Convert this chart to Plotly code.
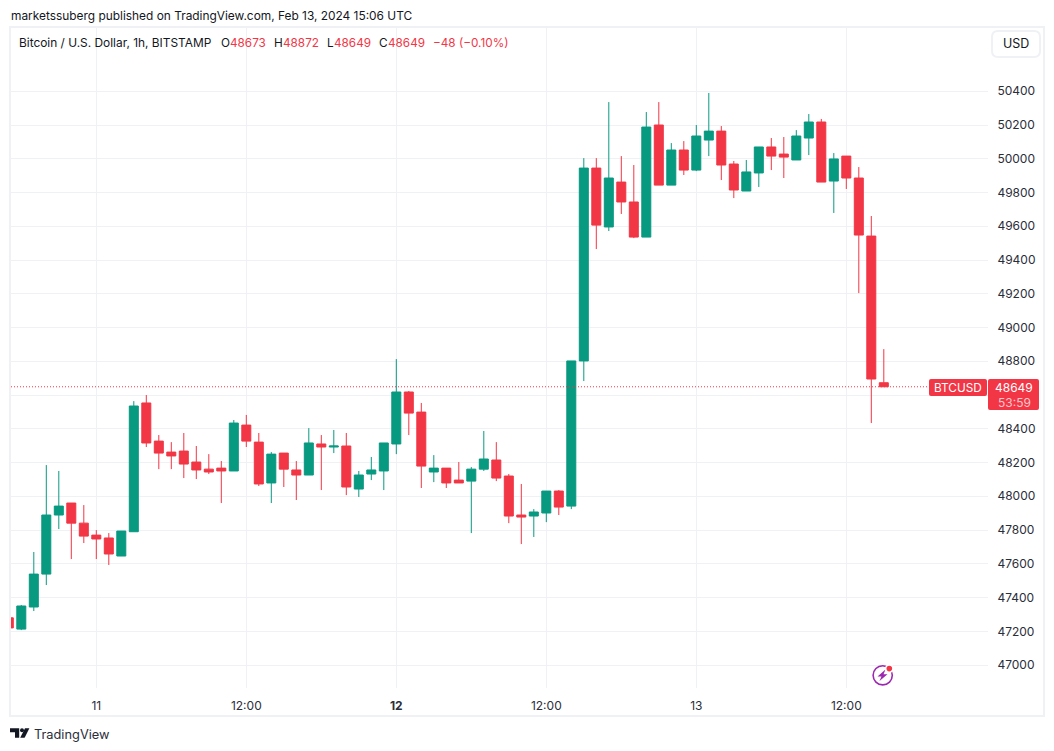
import pandas as pd
import plotly.graph_objects as go

W, H = 1054, 751
L, R, T, B = 11, 988, 28, 688

times = pd.date_range("2024-02-10 17:00", periods=71, freq="h")
opens = [47280,47213,47344,47539,47889,47960,47841,47770,47753,47646,47790,48553,48327,48262,48268,48203,48161,48167,48150,48422,48321,48079,48256,48156,48126,48310,48292,48298,48043,48132,48150,48310,48618,48499,48144,48167,48096,48090,48161,48215,48120,47889,47883,47901,48031,47942,48802,49945,49596,49862,49744,49536,50200,49844,50052,49933,50111,50164,49969,49809,49916,50070,50028,49993,50123,50218,49868,50016,49886,49542,48673]
highs = [47280,47356,47670,48185,48150,47960,47948,47800,47782,47794,48564,48600,48363,48321,48375,48298,48250,48209,48452,48482,48375,48262,48256,48209,48404,48363,48393,48375,48150,48233,48316,48813,48624,48553,48244,48167,48203,48173,48387,48321,48132,48073,47924,48031,48037,48802,50004,50004,50336,50016,49963,50277,50336,50093,50105,50200,50390,50194,49987,49993,50070,50123,50129,50170,50265,50236,50034,50016,49951,49661,48872]
lows = [47220,47207,47320,47474,47806,47628,47723,47628,47593,47646,47790,48292,48161,48161,48108,48102,48132,47960,48150,48292,48061,47960,48055,47978,48126,48037,48256,48007,47996,48096,48037,48250,48363,48049,48084,48049,48079,47782,48150,48090,47841,47717,47759,47847,47889,47924,48683,49465,49572,49673,49530,49536,49844,49844,49904,49927,50016,49874,49767,49809,49833,49933,49886,49993,50022,49862,49679,49821,49204,48434,48649]
closes = [47220,47350,47539,47889,47942,47841,47764,47747,47658,47794,48535,48316,48256,48239,48191,48156,48144,48150,48434,48327,48073,48250,48161,48126,48316,48292,48298,48055,48126,48156,48316,48618,48493,48179,48167,48079,48079,48161,48221,48108,47883,47877,47907,48031,47936,48802,49945,49607,49886,49744,49536,50188,49844,50052,49933,50135,50164,49963,49815,49922,50070,50016,50010,50135,50218,49862,49999,49886,49548,48695,48649]

x_ticks = ["2024-02-11 00:00", "2024-02-11 12:00", "2024-02-12 00:00", "2024-02-12 12:00", "2024-02-13 00:00", "2024-02-13 12:00"]
x_labels = ["11", "12:00", "<b>12</b>", "12:00", "13", "12:00"]
y_ticks = [47000, 47200, 47400, 47600, 47800, 48000, 48200, 48400, 48600, 48800, 49000, 49200, 49400, 49600, 49800, 50000, 50200, 50400]
y_labels = ["47000", "47200", "47400", "47600", "47800", "48000", "48200", "48400", "", "48800", "49000", "49200", "49400", "49600", "49800", "50000", "50200", "50400"]
last_price = 48649

GREEN, RED = "#089981", "#f23645"
GRID, INK = "#f0f1f5", "#131722"
FONT = "Inter"


def px(x):
    return (x - L) / (R - L)


def py(y):
    return (B - y) / (B - T)


def text(x, y, s, size=12, color=INK, anchor="left"):
    return dict(text=s, x=px(x), y=py(y), xref="paper", yref="paper", showarrow=False,
                xanchor=anchor, yanchor="middle", borderpad=0,
                font=dict(family=FONT, size=size, color=color))


def rrect(x0, y0, x1, y1, r):
    return (f"M{px(x0+r)},{py(y0)} L{px(x1-r)},{py(y0)} Q{px(x1)},{py(y0)} {px(x1)},{py(y0+r)} "
            f"L{px(x1)},{py(y1-r)} Q{px(x1)},{py(y1)} {px(x1-r)},{py(y1)} L{px(x0+r)},{py(y1)} "
            f"Q{px(x0)},{py(y1)} {px(x0)},{py(y1-r)} L{px(x0)},{py(y0+r)} Q{px(x0)},{py(y0)} {px(x0+r)},{py(y0)} Z")


def poly(points):
    return "M" + " L".join(f"{px(a)},{py(b)}" for a, b in points) + " Z"


def shape_path(path, fill=None, line=None, lw=0):
    return dict(type="path", path=path, xref="paper", yref="paper", layer="above",
                fillcolor=fill or "rgba(0,0,0,0)",
                line=dict(color=line or "rgba(0,0,0,0)", width=lw))


def circle(cx, cy, r, fill=None, line=None, lw=0):
    return dict(type="circle", xref="paper", yref="paper", layer="above",
                x0=px(cx - r), x1=px(cx + r), y0=py(cy + r), y1=py(cy - r),
                fillcolor=fill or "rgba(0,0,0,0)",
                line=dict(color=line or "rgba(0,0,0,0)", width=lw))


fig = go.Figure(go.Candlestick(
    x=times, open=opens, high=highs, low=lows, close=closes,
    increasing=dict(line=dict(color=GREEN, width=1), fillcolor=GREEN),
    decreasing=dict(line=dict(color=RED, width=1), fillcolor=RED),
    whiskerwidth=0, hoverinfo="skip", showlegend=False,
))

shapes = [
    dict(type="rect", xref="paper", yref="paper", x0=px(10), x1=px(1044), y0=py(716), y1=py(27),
         line=dict(color=GRID, width=2), fillcolor="rgba(0,0,0,0)", layer="below"),
    dict(type="line", xref="paper", yref="y", x0=0, x1=px(929), y0=last_price, y1=last_price,
         line=dict(color=RED, width=1, dash="1px,2px"), layer="above"),
    shape_path(rrect(929, 379, 987, 396, 2), fill=RED),
    shape_path(rrect(988, 379, 1039, 410, 2), fill=RED),
    shape_path(rrect(992, 31, 1040, 57, 6), fill="white", line=GRID, lw=2),
    # lightning badge
    circle(882.7, 675.3, 9.6, line="#9c27b0", lw=1.6),
    shape_path(poly([(885.5, 669.5), (877.5, 676.5), (881.5, 676.5), (879.5, 681), (887.5, 674.2), (883.5, 674.2)]), fill="#9c27b0"),
    circle(889.3, 668.6, 4.4, fill="white"),
    circle(889.3, 668.6, 2.8, fill=RED),
    # TradingView logo
    shape_path(poly([(10, 728.3), (19.2, 728.3), (19.2, 737.8), (15, 737.8), (15, 732.2), (10, 732.2)]), fill=INK),
    circle(22, 730.2, 2, fill=INK),
    shape_path(poly([(25, 728.3), (29.4, 728.3), (24.6, 737.8), (20.2, 737.8)]), fill=INK),
]

annotations = [
    text(10, 15.5, "marketssuberg published on TradingView.com, Feb 13, 2024 15:06 UTC", size=11.9),
    text(18, 42.5, "Bitcoin / U.S. Dollar, 1h, BITSTAMP", size=11.9),
]
for x, s, c in [(219.5, "O", INK), (229, "48673", RED), (273, "H", INK), (282, "48872", RED),
                (326, "L", INK), (333, "48649", RED), (378, "C", INK), (386.5, "48649", RED),
                (432, "−48 (−0.10%)", RED)]:
    annotations.append(text(x, 42.5, s, size=11.75, color=c))
annotations += [
    text(958, 387.5, "BTCUSD", size=11.8, color="white", anchor="center"),
    text(1014, 387.2, "48649", size=12, color="white", anchor="center"),
    text(1014, 402, "53:59", size=12, color="#fbc6cb", anchor="center"),
    text(1016, 43.5, "USD", size=12.5, anchor="center"),
    text(33, 734, "TradingView", size=12.8, color="#2a2e39"),
]

fig.update_layout(
    width=W, height=H, autosize=False,
    margin=dict(l=L, r=W - R, t=T, b=H - B, pad=0),
    paper_bgcolor="white", plot_bgcolor="white",
    font=dict(family=FONT, size=12, color=INK),
    boxgap=0.28, boxgroupgap=0,
    shapes=shapes, annotations=annotations, showlegend=False,
    xaxis=dict(type="date", range=["2024-02-10 17:10:34", "2024-02-13 23:20:10"],
               rangeslider=dict(visible=False), tickmode="array", tickvals=x_ticks, ticktext=x_labels,
               showgrid=True, gridcolor=GRID, gridwidth=1, zeroline=False, showline=False,
               ticks="outside", ticklen=7, tickcolor="rgba(0,0,0,0)", tickangle=0,
               tickfont=dict(family=FONT, size=12, color="#2a2e39")),
    yaxis=dict(side="right", range=[46864, 50775], tickmode="array", tickvals=y_ticks, ticktext=y_labels,
               showgrid=True, gridcolor=GRID, gridwidth=1, zeroline=False, showline=False,
               ticks="outside", ticklen=6, tickcolor="rgba(0,0,0,0)",
               tickfont=dict(family=FONT, size=12, color="#2a2e39")),
)

fig.write_html("out.html", post_script="document.body.style.margin='0';window.dispatchEvent(new Event('resize'));",
               config=dict(displayModeBar=False))
